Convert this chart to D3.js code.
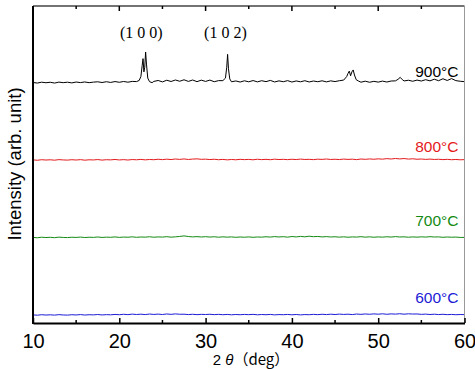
<!DOCTYPE html>
<html>
<head>
<meta charset="utf-8">
<script src="https://cdn.jsdelivr.net/npm/d3@7"></script>
<style>
  body { margin: 0; background: #fff; }
  svg { display: block; }
  text { font-family: "Liberation Sans", Arial, sans-serif; }
</style>
</head>
<body>
<div id="chart"></div>
<script>
// 2theta grid shared by the 600-800 scans (0.5 deg steps)
var gridStart = 10;
var gridStep = 0.5;

// 900C scan: [2theta, intensity]
var scan900 = [
  [10,0.4],[10.5,-0.3],[11,0.8],[11.5,0.1],[12,0.7],[12.5,-0.3],[13,0.9],[13.5,0.2],[14,0.8],[14.5,-0.1],
  [15,1.0],[15.5,0.3],[16,1.1],[16.5,0.2],[17,0.9],[17.5,1.3],[18,0.4],[18.5,1.4],[19,0.5],[19.5,1.6],
  [20,0.7],[20.5,1.7],[21,0.8],[21.5,1.8],[22,1.6],[22.3,3],[22.5,8],[22.65,22],[22.75,31],[22.85,14],
  [22.95,20],[23.05,39.5],[23.15,24],[23.3,6],[23.5,1.5],[23.8,0.2],[24,1.8],[24.5,3.0],[25,1.2],[25.5,3.3],
  [26,1.7],[26.5,3.6],[27,2.0],[27.5,3.9],[28,1.8],[28.5,3.6],[29,1.5],[29.5,3.4],[30,1.8],[30.5,3.5],
  [31,1.4],[31.5,2.8],[32,2.8],[32.3,6],[32.45,20],[32.55,36.5],[32.65,18],[32.8,5],[33,1.3],[33.5,2.4],
  [34,1.0],[34.5,2.6],[35,1.3],[35.5,2.9],[36,1.2],[36.5,2.7],[37,1.5],[37.5,3.1],[38,1.1],[38.5,2.5],
  [39,1.4],[39.5,2.8],[40,1.0],[40.5,2.4],[41,1.3],[41.5,2.7],[42,1.1],[42.5,2.3],[43,1.4],[43.5,2.6],
  [44,1.2],[44.5,2.5],[45,1.6],[45.5,2.7],[46,3.5],[46.35,8],[46.5,12],[46.65,15],[46.8,9],[46.95,14],
  [47.1,16.5],[47.25,10],[47.45,4],[47.7,2.4],[48,0.8],[48.5,2.1],[49,0.7],[49.5,1.9],[50,0.9],[50.5,2.2],
  [51,1.0],[51.5,2.3],[52,2.5],[52.3,4.5],[52.55,7],[52.8,4],[53,2.4],[53.5,3.3],[54,2.0],[54.5,3.5],
  [55,2.3],[55.5,4.0],[56,2.5],[56.5,4.6],[57,2.7],[57.5,5.2],[58,3.0],[58.5,5.4],[59,2.8],[59.5,2.0],
  [60,1.5]
];

var scan800 = [
  0.2,-0.3,0.4,0.0,0.3,-0.2,0.5,0.1,-0.1,0.4,
  0.0,0.5,-0.2,0.3,0.1,0.6,-0.1,0.4,0.2,0.7,
  0.1,0.5,0.0,0.6,0.3,0.8,0.2,0.7,0.4,1.0,
  0.5,1.1,0.6,1.3,0.8,1.4,0.7,1.2,1.5,0.9,
  1.1,0.6,1.0,0.4,0.8,0.2,0.7,0.3,0.9,0.5,
  0.8,0.3,1.0,0.5,0.9,0.4,1.1,0.6,0.9,0.5,
  1.0,0.6,1.2,0.7,0.9,0.5,1.1,0.8,1.3,0.7,
  1.0,0.6,1.2,0.8,1.1,0.5,1.3,0.9,1.4,1.0,
  1.5,1.1,1.8,1.3,2.0,1.4,1.9,1.2,1.6,1.0,
  1.3,0.8,1.2,0.7,1.0,0.5,0.9,0.4,0.7,0.3,
  0.5
];

var scan700 = [
  0.3,-0.2,0.5,0.1,0.4,-0.1,0.6,0.2,0.0,0.5,
  0.2,0.7,0.1,0.5,0.3,0.8,0.2,0.6,0.4,0.9,
  0.3,0.7,0.5,1.0,0.4,0.8,0.6,1.1,0.5,0.9,
  0.7,1.2,0.6,1.0,1.5,2.2,1.4,0.9,1.3,0.8,
  1.2,0.7,1.1,0.5,1.0,0.6,0.9,0.4,0.8,0.5,
  0.9,0.4,0.8,0.6,1.1,0.7,1.3,0.8,1.2,0.6,
  1.4,0.9,1.6,1.0,1.8,1.2,1.5,0.9,1.3,0.8,
  1.1,0.6,1.0,0.5,0.9,0.7,1.2,0.6,1.0,0.5,
  0.9,0.6,1.1,0.7,1.3,0.8,1.0,0.5,0.9,0.6,
  1.0,0.7,1.2,0.8,0.9,0.4,0.8,0.5,0.7,0.2,
  0.3
];

var scan600 = [
  0.4,0.0,0.6,0.2,0.5,0.1,0.7,0.3,0.1,0.6,
  0.3,0.8,0.2,0.6,0.4,0.9,0.3,0.7,0.5,1.0,
  0.6,1.2,0.7,1.4,0.9,1.3,0.8,1.5,1.0,1.4,
  0.9,1.6,1.1,1.7,1.2,1.3,0.8,1.2,0.7,1.1,
  0.9,1.2,0.7,1.1,0.6,1.0,0.5,0.9,0.6,1.0,
  0.7,1.1,0.5,0.9,0.6,1.0,0.4,0.8,0.6,1.0,
  0.5,0.9,0.4,0.8,0.6,1.1,0.7,1.2,0.8,1.3,
  0.9,1.4,1.0,1.3,0.8,1.5,1.1,1.6,1.2,1.7,
  1.3,1.8,1.2,1.7,1.4,1.9,1.3,1.8,1.5,1.6,
  1.1,1.4,0.9,1.3,0.8,1.2,0.7,1.0,0.6,0.9,
  0.7
];

var tempLabels = ["900°C", "800°C", "700°C", "600°C"];
var xTicks = [10, 20, 30, 40, 50, 60];
var xMinorTicks = [15, 25, 35, 45, 55];
var peakLabels = [["(1 0 0)", 22.55], ["(1 0 2)", 32.3]];

// --- layout
var svgWidth = 475;
var svgHeight = 369;
var margin = { top: 6, right: 10.5, bottom: 46, left: 33 };
var width = svgWidth - margin.left - margin.right;
var height = svgHeight - margin.top - margin.bottom;

var colors = ["#000000", "#e41a1c", "#138a13", "#1c1cd6"];
var offsets = [298, 199, 99.5, 0];
var labelLift = [6, 8, 11.5, 12.5];

var svg = d3.select("#chart")
  .append("svg")
  .attr("width", svgWidth)
  .attr("height", svgHeight);

var chartGroup = svg.append("g")
  .attr("transform", `translate(${margin.left}, ${margin.top})`);

var xScale = d3.scaleLinear().domain([10, 60]).range([0, width]);
var yScale = d3.scaleLinear().domain([-10, 396.5]).range([height, 0]);

function gridSeries(vals) {
  return vals.map(function(v, i) { return [gridStart + i * gridStep, v]; });
}

var series = [scan900, gridSeries(scan800), gridSeries(scan700), gridSeries(scan600)];

var line = d3.line()
  .x(d => xScale(d[0]))
  .y(d => yScale(d[1]));

series.forEach(function(s, i) {
  chartGroup.append("path")
    .datum(s.map(d => [d[0], d[1] + offsets[i]]))
    .attr("fill", "none")
    .attr("stroke", colors[i])
    .attr("stroke-width", 1)
    .attr("d", line);

  chartGroup.append("text")
    .attr("x", xScale(59.3))
    .attr("y", yScale(offsets[i]) - labelLift[i])
    .attr("text-anchor", "end")
    .attr("font-size", "15.5px")
    .attr("fill", colors[i])
    .text(tempLabels[i]);
});

// peak labels
chartGroup.selectAll(".peak")
  .data(peakLabels)
  .enter()
  .append("text")
  .attr("class", "peak")
  .attr("x", d => xScale(d[1]))
  .attr("y", 32)
  .attr("text-anchor", "middle")
  .style("font-family", "'Liberation Serif', 'Times New Roman', serif")
  .attr("font-size", "16px")
  .text(d => d[0]);

// frame: top and right thin
chartGroup.append("line")
  .attr("x1", 0).attr("x2", width).attr("y1", 0).attr("y2", 0)
  .attr("stroke", "#444").attr("stroke-width", 1.5);
chartGroup.append("line")
  .attr("x1", width).attr("x2", width).attr("y1", 0).attr("y2", height)
  .attr("stroke", "#999").attr("stroke-width", 1);

// bottom axis, ticks inward
var bottomAxis = d3.axisBottom(xScale)
  .tickValues(xTicks)
  .tickSizeInner(-5)
  .tickSizeOuter(0)
  .tickPadding(11)
  .tickFormat(d3.format("d"));

var xAxis = chartGroup.append("g")
  .attr("transform", `translate(0, ${height})`)
  .call(bottomAxis);
xAxis.select(".domain").attr("stroke-width", 2);
xAxis.selectAll(".tick line").attr("stroke-width", 1.5);
xAxis.selectAll("text")
  .style("font-family", "'Liberation Sans', Arial, sans-serif")
  .attr("font-size", "20px")
  .attr("fill", "#000");

xAxis.selectAll(".minor")
  .data(xMinorTicks)
  .enter()
  .append("line")
  .attr("class", "minor")
  .attr("x1", d => xScale(d)).attr("x2", d => xScale(d))
  .attr("y1", 0).attr("y2", -3)
  .attr("stroke", "#000").attr("stroke-width", 1.5);

// top ticks
chartGroup.selectAll(".topTick")
  .data(xTicks.slice(1, -1).concat(xMinorTicks))
  .enter()
  .append("line")
  .attr("class", "topTick")
  .attr("x1", d => xScale(d)).attr("x2", d => xScale(d))
  .attr("y1", 0).attr("y2", d => xTicks.indexOf(d) >= 0 ? 5 : 3)
  .attr("stroke", "#000").attr("stroke-width", 1.5);

// left axis line
chartGroup.append("line")
  .attr("x1", 0).attr("x2", 0).attr("y1", 0).attr("y2", height + 1)
  .attr("stroke", "#000").attr("stroke-width", 2);

// axis titles
var xTitle = svg.append("text")
  .attr("x", 251)
  .attr("y", 364.5)
  .attr("text-anchor", "middle")
  .attr("font-size", "15px");
xTitle.append("tspan").text("2 ");
xTitle.append("tspan").attr("font-style", "italic").text("θ");
xTitle.append("tspan")
  .style("font-family", "'Noto Sans CJK JP', 'Liberation Sans', sans-serif")
  .text("（deg）");

svg.append("text")
  .attr("transform", "rotate(-90)")
  .attr("x", -164)
  .attr("y", 21)
  .attr("text-anchor", "middle")
  .attr("font-size", "18.5px")
  .text("Intensity (arb. unit)");
</script>
</body>
</html>
